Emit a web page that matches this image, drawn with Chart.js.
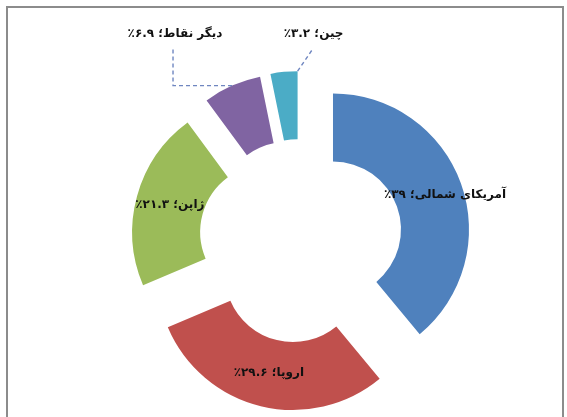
<!DOCTYPE html>
<html><head><meta charset="utf-8">
<script src="https://cdn.jsdelivr.net/npm/chart.js@4.4.1/dist/chart.umd.min.js"></script>
<style>
html,body{margin:0;padding:0;background:#fff;}
#wrap{position:relative;width:567px;height:417px;overflow:hidden;background:#fff;}
#frame{position:absolute;left:6px;top:6px;width:558px;height:480px;border:2px solid #8c8c8c;border-bottom:none;box-sizing:border-box;}
canvas{position:absolute;left:0;top:0;}
</style></head><body>
<div id="wrap"><div id="frame"></div><canvas id="c" width="567" height="417"></canvas></div>
<script>
// ---- data ----
const categories = ['آمریکای شمالی', 'اروپا', 'ژاپن', 'دیگر نقاط', 'چین'];
const shares = [39, 29.6, 21.3, 6.9, 3.2];
const colors = ['#4f81bd', '#c0504d', '#9bbb59', '#8064a2', '#4bacc6'];

const faDigits = s => String(s).replace(/[0-9]/g, d => '۰۱۲۳۴۵۶۷۸۹'[d]);
const labelText = i => categories[i] + '؛ ' + faDigits(shares[i]) + '٪';

// explode every slice outward along its mid-angle
const explodePlugin = {
  id: 'explode',
  beforeDatasetsDraw(chart, args, opts) {
    const d = opts.distance || 0;
    const ca = chart.chartArea;
    const cx = (ca.left + ca.right) / 2, cy = (ca.top + ca.bottom) / 2;
    chart.getDatasetMeta(0).data.forEach(arc => {
      const mid = (arc.startAngle + arc.endAngle) / 2;
      arc.x = cx + Math.cos(mid) * d;
      arc.y = cy + Math.sin(mid) * d;
    });
  }
};

// data labels (inside for big slices, outside with leader lines for small ones)
const labelPlugin = {
  id: 'sliceLabels',
  afterDatasetsDraw(chart, args, opts) {
    const ctx = chart.ctx;
    const meta = chart.getDatasetMeta(0);
    ctx.save();
    ctx.font = opts.font;
    ctx.fillStyle = opts.color;
    ctx.direction = 'rtl';
    ctx.textAlign = 'center';
    ctx.textBaseline = 'middle';
    meta.data.forEach((arc, i) => {
      const mid = (arc.startAngle + arc.endAngle) / 2;
      const lead = opts.leaders[i];
      if (!lead) {
        const r = (arc.innerRadius + arc.outerRadius) / 2;
        const sh = opts.shift[i] || [0, 0];
        ctx.fillText(labelText(i), arc.x + Math.cos(mid) * r + sh[0], arc.y + Math.sin(mid) * r + sh[1]);
      } else {
        const ang = lead.anchor === 'end' ? arc.endAngle : mid;
        const ax = arc.x + Math.cos(ang) * arc.outerRadius;
        const ay = arc.y + Math.sin(ang) * arc.outerRadius;
        ctx.save();
        ctx.strokeStyle = opts.leaderColor;
        ctx.lineWidth = 1.4;
        ctx.setLineDash([4, 3]);
        ctx.beginPath();
        ctx.moveTo(ax, ay);
        lead.path.forEach(p => ctx.lineTo(ax + p[0], ay + p[1]));
        ctx.stroke();
        ctx.restore();
        ctx.fillText(labelText(i), ax + lead.text[0], ay + lead.text[1]);
      }
    });
    ctx.restore();
  }
};

new Chart(document.getElementById('c'), {
  type: 'doughnut',
  data: {
    labels: categories,
    datasets: [{
      data: shares,
      backgroundColor: colors,
      borderWidth: 0
    }]
  },
  options: {
    responsive: false,
    animation: false,
    events: [],
    radius: 136,
    cutout: '50%',
    layout: { padding: { left: 35, right: 0, top: 65, bottom: 0 } },
    plugins: {
      legend: { display: false },
      tooltip: { enabled: false },
      explode: { distance: 34 },
      sliceLabels: {
        font: 'bold 12px "DejaVu Sans"',
        color: '#111',
        leaderColor: '#6f86c0',
        shift: { 0: [16, 0] },
        leaders: {
          3: { anchor: 'mid', path: [[-59, 0], [-59, -38]], text: [-57, -52] },
          4: { anchor: 'end', path: [[15, -22]], text: [16, -37] }
        }
      }
    }
  },
  plugins: [explodePlugin, labelPlugin]
});
</script>
</body></html>
